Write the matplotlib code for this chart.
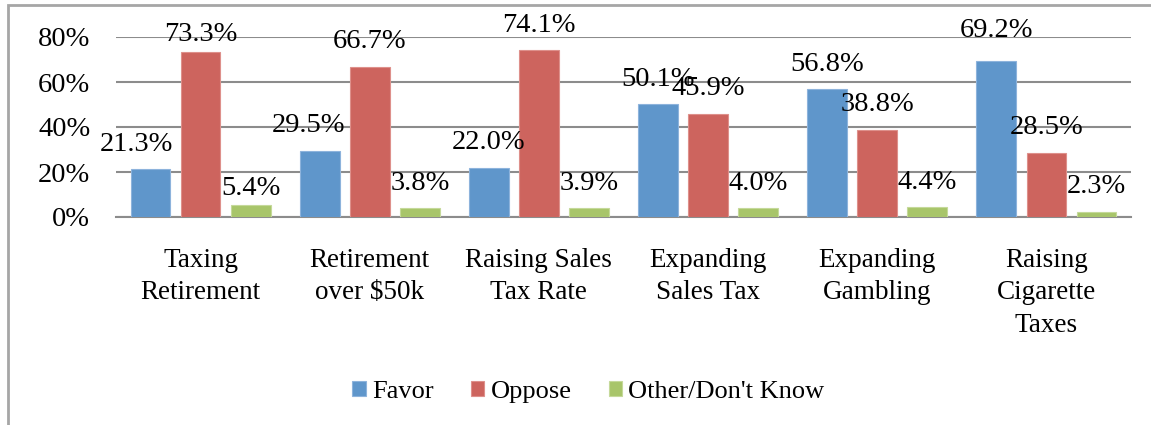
import matplotlib
matplotlib.use("Agg")
import matplotlib.pyplot as plt
import matplotlib.patches as mpatches
import numpy as np

categories = ["Taxing\nRetirement", "Retirement\nover $50k", "Raising Sales\nTax Rate",
              "Expanding\nSales Tax", "Expanding\nGambling", "Raising\nCigarette\nTaxes"]
series_names = ["Favor", "Oppose", "Other/Don't Know"]
favor = [21.3, 29.5, 22.0, 50.1, 56.8, 69.2]
oppose = [73.3, 66.7, 74.1, 45.9, 38.8, 28.5]
other = [5.4, 3.8, 3.9, 4.0, 4.4, 2.3]
y_ticks = [0, 20, 40, 60, 80]

colors = ["#5F96CB", "#CD645E", "#A8C56A"]
edge_colors = ["#8DB3DC", "#DE908B", "#C5D99A"]
# label nudges in pixels (series index, category index) -> (dx, dy)
nudges = {(0, 0): (-14, 0), (0, 1): (-11, 0), (1, 0): (0, -7), (2, 0): (0, -9),
          (0, 5): (0, 6)}

plt.rcParams['font.family'] = ['Liberation Serif', 'DejaVu Serif']

W, H = 1151, 425
fig = plt.figure(figsize=(W / 100, H / 100), dpi=100)
ax = fig.add_axes([116 / W, 1 - 217 / H, (1131 - 116) / W, (217 - 37) / H])

x = np.arange(len(categories))
width = 0.235
offset = 0.296
for i, vals in enumerate([favor, oppose, other]):
    pos = x + (i - 1) * offset
    bars = ax.bar(pos, vals, width, color=colors[i], edgecolor=edge_colors[i],
                  linewidth=0.8, label=series_names[i], zorder=3)
    for j, (p, v) in enumerate(zip(pos, vals)):
        dx, dy = nudges.get((i, j), (0, 0))
        ax.annotate(f"{v:.1f}%", xy=(p, v), xytext=(dx, 25 + dy),
                    textcoords="offset pixels", ha="center", va="center",
                    fontsize=20.5, color="black", zorder=5, annotation_clip=False)

ax.set_xlim(-0.5, len(categories) - 0.5)
ax.set_ylim(0, 80)
ax.set_yticks(y_ticks)
ax.set_yticklabels([f"{t}%" for t in y_ticks], fontsize=20.5)
ax.set_xticks(x)
ax.set_xticklabels(categories, fontsize=19.5, linespacing=1.4, va="top")
ax.tick_params(axis="both", length=0)
ax.tick_params(axis="y", pad=18.5)
ax.tick_params(axis="x", pad=22)
for s in ["top", "right", "left"]:
    ax.spines[s].set_visible(False)
ax.spines["bottom"].set_color("#8C8C8C")
ax.spines["bottom"].set_linewidth(1.5)
ax.yaxis.grid(True, color="#8C8C8C", linewidth=1.5, zorder=0)
ax.set_axisbelow(True)

fig.legend(loc="center", bbox_to_anchor=(588.5 / W, 1 - 392 / H), ncol=3,
           frameon=False, fontsize=19, handlelength=0.5, handleheight=0.5,
           handletextpad=0.25, columnspacing=1.4, borderaxespad=0)

frame = mpatches.Rectangle((8 / W, -1), 3, 1 + (1 - 5 / H), transform=fig.transFigure,
                           fill=False, edgecolor="#A6A6A6", linewidth=2, clip_on=False)
fig.patches.append(frame)

fig.savefig("out.png", dpi=100)
